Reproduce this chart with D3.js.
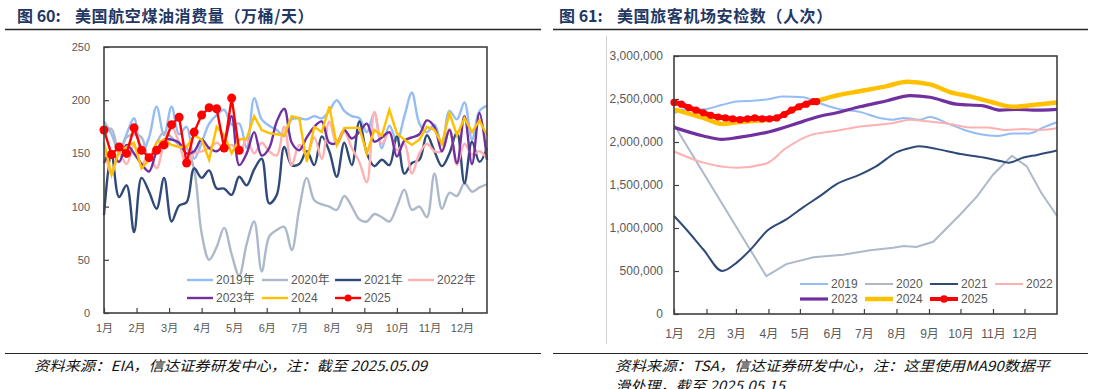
<!DOCTYPE html>
<html>
<head>
<meta charset="utf-8">
<script src="https://cdn.jsdelivr.net/npm/d3@7"></script>
<style>
body{margin:0;background:#fff;}
svg{display:block;font-family:"Liberation Sans",Arial,"Noto Sans CJK SC",sans-serif;}
</style>
</head>
<body>
<script>
// ---- 图60 美国航空煤油消费量 (weekly, 万桶/天)
var monthLabels = ["1月","2月","3月","4月","5月","6月","7月","8月","9月","10月","11月","12月"];
var jetTicks = [0,50,100,150,200,250];
var jet2019 = [180,168,152,168,183,150,165,194,167,194,168,175,145,160,178,186,191,177,178,155,202,182,176,172,166,182,183,182,185,183,190,200,190,185,183,170,188,155,176,162,185,207,178,170,177,158,190,182,198,163,190,195];
var jet2020 = [172,173,150,165,168,165,145,160,170,165,158,155,135,75,50,62,80,55,35,65,86,39,72,78,81,59,98,127,106,102,100,97,110,100,88,86,93,90,86,100,116,97,100,90,131,98,113,110,122,114,118,121];
var jet2021 = [92,150,109,120,76,127,114,98,127,86,101,104,136,127,134,117,117,111,128,120,135,145,103,111,156,139,140,152,139,166,152,128,160,139,180,150,138,144,139,166,131,141,144,167,152,138,150,170,122,161,142,155];
var jet2022 = [160,130,150,140,158,140,148,136,160,175,160,139,150,152,155,160,155,158,150,163,150,160,152,148,175,139,158,149,165,145,180,158,170,155,142,123,189,159,170,153,159,131,150,159,152,152,173,139,159,149,152,145];
var jet2023 = [141,152,142,158,150,140,133,152,163,163,160,150,152,163,155,152,160,185,139,150,170,148,155,180,192,160,153,165,175,180,160,160,172,164,170,178,161,165,170,147,162,165,168,181,175,152,172,141,185,140,188,144];
var jet2024 = [160,130,152,156,160,136,144,160,163,158,156,156,167,163,144,175,167,150,163,164,185,172,169,168,167,185,183,142,175,170,194,158,174,174,174,150,172,167,191,169,163,158,163,175,172,159,188,167,183,170,181,167];
var jet2025 = [172,149,156,150,174,153,146,153,158,177,184,141,170,186,193,192,155,202,153];

// ---- 图61 美国旅客机场安检数 (MA90, [day of year, 百万人次])
var monthStartDays = [0,31,59,90,120,151,181,212,243,273,304,334];
var tsaTicks = [0,500000,1000000,1500000,2000000,2500000,3000000];
var tsa2019 = [[0,2.33],[10,2.38],[28,2.38],[45,2.43],[60,2.47],[75,2.48],[91,2.50],[104,2.53],[123,2.52],[139,2.45],[155,2.39],[177,2.35],[196,2.28],[209,2.26],[219,2.28],[234,2.26],[244,2.29],[260,2.22],[279,2.13],[292,2.09],[308,2.07],[323,2.10],[339,2.10],[352,2.17],[365,2.23]];
var tsa2020 = [[0,2.20],[88,0.44],[107,0.58],[133,0.66],[161,0.69],[187,0.74],[209,0.77],[219,0.79],[231,0.78],[247,0.84],[273,1.16],[289,1.37],[304,1.62],[322,1.84],[336,1.72],[350,1.41],[365,1.14]];
var tsa2021 = [[0,1.14],[12,0.98],[28,0.75],[46,0.50],[60,0.60],[76,0.79],[88,0.96],[107,1.10],[123,1.24],[139,1.37],[155,1.51],[177,1.62],[193,1.72],[212,1.88],[225,1.93],[234,1.95],[250,1.92],[273,1.86],[295,1.82],[314,1.77],[319,1.76],[333,1.82],[346,1.85],[365,1.90]];
var tsa2022 = [[0,1.89],[28,1.76],[60,1.70],[88,1.75],[107,1.93],[130,2.08],[155,2.13],[177,2.18],[209,2.22],[225,2.26],[241,2.24],[263,2.21],[282,2.17],[298,2.17],[317,2.14],[333,2.15],[349,2.14],[365,2.16]];
var tsa2023 = [[0,2.17],[28,2.07],[46,2.03],[60,2.05],[91,2.12],[123,2.24],[139,2.30],[155,2.34],[177,2.41],[203,2.48],[225,2.54],[244,2.52],[269,2.44],[295,2.42],[311,2.37],[327,2.38],[342,2.37],[365,2.38]];
var tsa2024 = [[0,2.38],[28,2.28],[46,2.21],[60,2.23],[91,2.26],[123,2.42],[155,2.54],[177,2.59],[203,2.65],[222,2.70],[244,2.67],[263,2.58],[282,2.53],[304,2.46],[323,2.41],[342,2.43],[365,2.46]];
var tsa2025 = [[0,2.46],[7,2.44],[14,2.40],[21,2.37],[28,2.34],[35,2.31],[42,2.29],[49,2.28],[56,2.27],[63,2.26],[70,2.27],[77,2.28],[84,2.27],[91,2.27],[98,2.28],[105,2.32],[112,2.37],[119,2.41],[126,2.44],[133,2.47],[136,2.47]];

var colors = {"2019":"#95bdf5","2020":"#adb9ca","2021":"#2f4a78","2022":"#ffb0b0","2023":"#7030a0","2024":"#ffc000","2025":"#ff0000"};
var axisColor = "#404040", labelColor = "#595959";

var svg = d3.select("body").append("svg").attr("width",1094).attr("height",389);

// titles + rules
function header(x0, x1, tx, num, text){
  var t = svg.append("text").attr("y",22).attr("fill","#1f3864")
    .attr("font-weight","bold").attr("font-size",16)
    .attr("font-family","\"Noto Sans CJK SC\",sans-serif");
  t.append("tspan").attr("x",tx).text("图 " + num + ":");
  t.append("tspan").attr("x",tx+58).attr("letter-spacing",0.6).text(text);
  svg.append("line").attr("x1",x0).attr("x2",x1).attr("y1",29.5).attr("y2",29.5)
    .attr("stroke","#262626").attr("stroke-width",1.5);
  svg.append("line").attr("x1",x0).attr("x2",x1).attr("y1",353.5).attr("y2",353.5)
    .attr("stroke","#262626").attr("stroke-width",1.2);
}
header(5, 541, 17, "60", "美国航空煤油消费量（万桶/天）");
header(553, 1088, 559, "61", "美国旅客机场安检数（人次）");

function footer(x, y, len, text){
  svg.append("text").attr("x",x).attr("y",y).attr("font-size",14).attr("font-style","italic")
    .attr("fill","#111").attr("font-family","\"Noto Sans CJK SC\",sans-serif")
    .attr("textLength",len).attr("lengthAdjust","spacingAndGlyphs").text(text);
}
footer(34, 371, 393, "资料来源：EIA，信达证券研发中心，注：截至 2025.05.09");
footer(615, 371, 435, "资料来源：TSA，信达证券研发中心，注：这里使用MA90数据平");
footer(615, 391, 170, "滑处理，截至 2025.05.15");

// thin border of the embedded picture on the right
svg.append("line").attr("x1",606.5).attr("x2",606.5).attr("y1",36).attr("y2",344)
  .attr("stroke","#d0d0d0").attr("stroke-width",1);

function styleAxis(g, fs){
  g.select(".domain").remove();
  g.selectAll(".tick line").attr("stroke",axisColor).attr("stroke-width",1.2);
  g.selectAll(".tick text").attr("fill",labelColor).attr("font-size",fs)
    .attr("font-family","\"Liberation Sans\",Arial,\"Noto Sans CJK SC\",sans-serif");
}

function legend(items, x0s, ys, lineLen, fs){
  items.forEach(function(it, i){
    var lx = x0s[i % 4], ly = ys[Math.floor(i / 4)];
    svg.append("line").attr("x1",lx).attr("x2",lx+lineLen).attr("y1",ly).attr("y2",ly)
      .attr("stroke",it.color).attr("stroke-width",it.w);
    if(it.dot) svg.append("circle").attr("cx",lx+lineLen/2).attr("cy",ly).attr("r",it.dot).attr("fill",it.color);
    svg.append("text").attr("x",lx+lineLen+3).attr("y",ly).attr("dy","0.35em")
      .attr("font-size",fs).attr("fill",labelColor).text(it.name);
  });
}

// ---------------- left chart
var xL = d3.scaleLinear().domain([0,51]).range([104,487]);
var yL = d3.scaleLinear().domain([0,250]).range([313,47]);

var gxL = svg.append("g").attr("transform","translate(0,313)")
  .call(d3.axisBottom(xL).tickValues(monthLabels.map(function(d,i){return i*52/12;}))
    .tickFormat(function(d,i){return monthLabels[i];}).tickSize(-5).tickSizeOuter(0).tickPadding(11));
styleAxis(gxL, 11);
var gyL = svg.append("g").attr("transform","translate(104,0)")
  .call(d3.axisLeft(yL).tickValues(jetTicks).tickSize(-5).tickSizeOuter(0).tickPadding(14));
styleAxis(gyL, 11);

var smoothL = d3.line().x(function(d,i){return xL(i);}).y(function(d){return yL(d);})
  .curve(d3.curveCatmullRom.alpha(0.5));
var straightL = d3.line().x(function(d,i){return xL(i);}).y(function(d){return yL(d);});

var plotL = svg.append("g");
[["2019",jet2019],["2020",jet2020],["2021",jet2021],["2022",jet2022],["2023",jet2023]].forEach(function(s){
  plotL.append("path").attr("d",smoothL(s[1])).attr("fill","none")
    .attr("stroke",colors[s[0]]).attr("stroke-width",2.4);
});
plotL.append("path").attr("d",straightL(jet2024)).attr("fill","none")
  .attr("stroke",colors["2024"]).attr("stroke-width",2.4);
plotL.append("path").attr("d",straightL(jet2025)).attr("fill","none")
  .attr("stroke",colors["2025"]).attr("stroke-width",2.4);
plotL.selectAll("circle.m25").data(jet2025).enter().append("circle").attr("class","m25")
  .attr("cx",function(d,i){return xL(i);}).attr("cy",function(d){return yL(d);})
  .attr("r",4.5).attr("fill",colors["2025"]);

svg.append("rect").attr("x",104).attr("y",47).attr("width",383).attr("height",266)
  .attr("fill","none").attr("stroke",axisColor).attr("stroke-width",1.6);

legend([
  {name:"2019年",color:colors["2019"],w:2.4},{name:"2020年",color:colors["2020"],w:2.4},
  {name:"2021年",color:colors["2021"],w:2.4},{name:"2022年",color:colors["2022"],w:2.4},
  {name:"2023年",color:colors["2023"],w:2.4},{name:"2024",color:colors["2024"],w:2.4},
  {name:"2025",color:colors["2025"],w:2.4,dot:3.5}
], [187,262,335,408], [280,298], 26, 12);

// ---------------- right chart
var xR = d3.scaleLinear().domain([0,365]).range([674,1057]);
var yR = d3.scaleLinear().domain([0,3000000]).range([314,56]);

var gxR = svg.append("g").attr("transform","translate(0,314)")
  .call(d3.axisBottom(xR).tickValues(monthStartDays)
    .tickFormat(function(d,i){return monthLabels[i];}).tickSize(-5).tickSizeOuter(0).tickPadding(15));
styleAxis(gxR, 12);
var gyR = svg.append("g").attr("transform","translate(674,0)")
  .call(d3.axisLeft(yR).tickValues(tsaTicks).tickFormat(d3.format(",")).tickSize(-5).tickSizeOuter(0).tickPadding(11));
styleAxis(gyR, 12);

var lineR = d3.line().x(function(d){return xR(d[0]);}).y(function(d){return yR(d[1]*1e6);})
  .curve(d3.curveMonotoneX);
var linearR = d3.line().x(function(d){return xR(d[0]);}).y(function(d){return yR(d[1]*1e6);});

var plotR = svg.append("g");
plotR.append("path").attr("d",lineR(tsa2019)).attr("fill","none").attr("stroke",colors["2019"]).attr("stroke-width",2);
plotR.append("path").attr("d",linearR(tsa2020)).attr("fill","none").attr("stroke",colors["2020"]).attr("stroke-width",2);
plotR.append("path").attr("d",lineR(tsa2021)).attr("fill","none").attr("stroke",colors["2021"]).attr("stroke-width",2);
plotR.append("path").attr("d",lineR(tsa2022)).attr("fill","none").attr("stroke",colors["2022"]).attr("stroke-width",2);
plotR.append("path").attr("d",lineR(tsa2023)).attr("fill","none").attr("stroke",colors["2023"]).attr("stroke-width",3.2);
plotR.append("path").attr("d",lineR(tsa2024)).attr("fill","none").attr("stroke",colors["2024"]).attr("stroke-width",4.5);
plotR.append("path").attr("d",lineR(tsa2025)).attr("fill","none").attr("stroke",colors["2025"]).attr("stroke-width",5);
plotR.selectAll("circle.r25").data(tsa2025).enter().append("circle").attr("class","r25")
  .attr("cx",function(d){return xR(d[0]);}).attr("cy",function(d){return yR(d[1]*1e6);})
  .attr("r",3.6).attr("fill",colors["2025"]);

svg.append("rect").attr("x",674).attr("y",56).attr("width",383).attr("height",258)
  .attr("fill","none").attr("stroke",axisColor).attr("stroke-width",1.6);

legend([
  {name:"2019",color:colors["2019"],w:2},{name:"2020",color:colors["2020"],w:2},
  {name:"2021",color:colors["2021"],w:2},{name:"2022",color:colors["2022"],w:2},
  {name:"2023",color:colors["2023"],w:3.2},{name:"2024",color:colors["2024"],w:4.5},
  {name:"2025",color:colors["2025"],w:4,dot:3.8}
], [800,865,930,995], [284,299], 28, 12);
</script>
</body>
</html>
